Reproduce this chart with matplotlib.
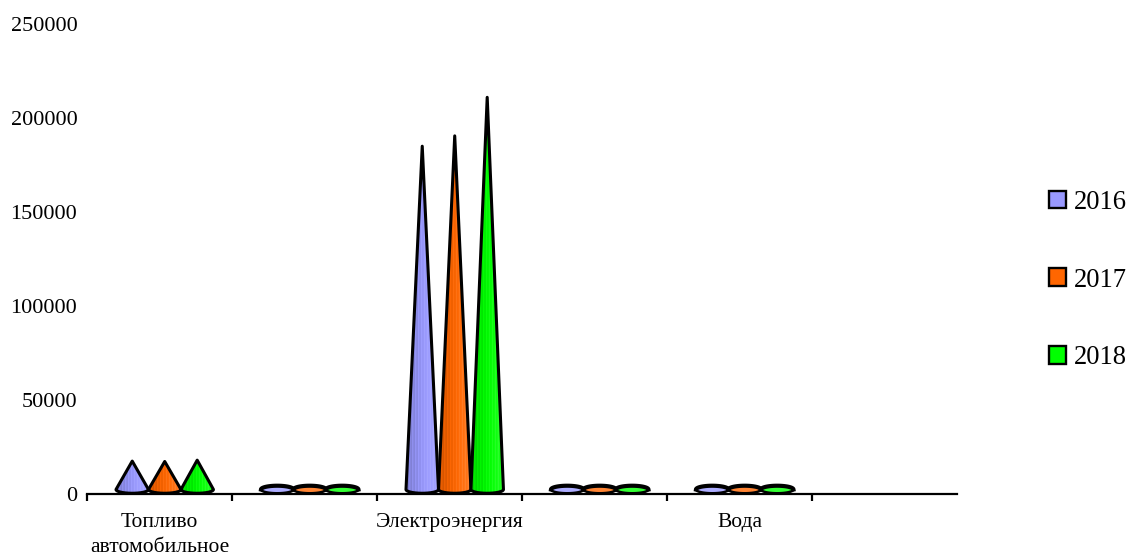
import numpy as np
import matplotlib
matplotlib.use('Agg')
import matplotlib.pyplot as plt
from matplotlib.colors import LinearSegmentedColormap
from matplotlib.patches import Patch, Polygon

plt.rcParams['font.family'] = ['Liberation Serif', 'DejaVu Serif']

categories = ['Топливо\nавтомобильное', '', 'Электроэнергия', '', 'Вода', '']
years = ['2016', '2017', '2018']
colors = ['#9999FF', '#FF6600', '#00FF00']
# last category is empty
values_2016 = [17500, 4400, 185000, 4400, 4400, 0]
values_2017 = [17300, 4300, 190500, 4300, 4300, 0]
values_2018 = [18000, 4300, 211000, 4300, 4300, 0]
y_ticks = [0, 50000, 100000, 150000, 200000, 250000]
series = [values_2016, values_2017, values_2018]

W, H = 1128, 553
fig = plt.figure(figsize=(W / 100, H / 100), dpi=100)
ax = fig.add_axes([87 / W, (H - 494) / H, 870 / W, 470 / H])
ax.patch.set_alpha(0)

cone_w = 0.224
half_w = 0.112
base_y = 2400   # centre of the cone base above the axis
base_h = 2000   # half height of the base ellipse
lw = 2.2

t = np.linspace(0, np.pi, 40)
for s, vals in enumerate(series):
    # faint vertical streaks, like the stepped gradient of the original
    shade = 0.5 + 0.07 * np.sin(np.linspace(-1.5, 1.5, 200))
    shade += 0.035 * np.sin(np.linspace(0, 70, 200))
    cmap = LinearSegmentedColormap.from_list('c2', ['#000000', colors[s], '#ffffff'])
    for i, v in enumerate(vals):
        if v == 0:
            continue
        cx = i + 0.536 + (s - 1) * cone_w
        arc_x = cx + half_w * np.cos(t)
        arc_y = base_y - base_h * np.sin(t)
        xs = np.r_[cx, arc_x[::-1]]
        ys = np.r_[v, arc_y[::-1]]
        if v < 6000:
            # flat cones: the whole base ellipse shows
            top = base_y + base_h * np.sin(t)
            ax.fill_between(arc_x, arc_y, top, color=colors[s], alpha=0.8, lw=0, zorder=2 + s)
            ax.plot(arc_x, top, color='black', lw=lw + 0.8, zorder=3 + s)
            ax.plot(arc_x, arc_y, color='black', lw=lw - 0.4, zorder=3 + s)
            continue
        im = ax.imshow(np.tile(shade, (2, 1)), cmap=cmap, vmin=0, vmax=1,
                       extent=[cx - half_w, cx + half_w, 0, v], aspect='auto', zorder=2 + s)
        im.set_clip_path(Polygon(np.c_[xs, ys], closed=True, transform=ax.transData))
        ax.add_patch(Polygon(np.c_[xs, ys], closed=True, fc='none', ec='black',
                             lw=lw, joinstyle='round', zorder=3 + s))

ax.set_xlim(0, 6)
ax.set_ylim(0, 250000)
for side in ['top', 'right', 'left']:
    ax.spines[side].set_visible(False)
ax.spines['bottom'].set_linewidth(1.6)
ax.spines['bottom'].set_zorder(10)

ax.set_yticks(y_ticks)
ax.tick_params(axis='y', length=0, pad=7, labelsize=16)
ax.set_xticks(range(0, 6))
ax.set_xticklabels([])
ax.tick_params(axis='x', which='major', length=5, width=1.6)
ax.set_xticks(np.arange(6) + 0.5, minor=True)
ax.set_xticklabels(categories, minor=True, fontsize=15.5, linespacing=1.42)
ax.tick_params(axis='x', which='minor', length=0, pad=13.5)

handles = [Patch(fc=c, ec='black', lw=1.7) for c in colors]
fig.legend(handles, years, loc='center left', bbox_to_anchor=(1049 / W, (H - 280) / H),
           frameon=False, fontsize=19.2, handlelength=0.62, handleheight=0.62,
           handletextpad=0.3, labelspacing=1.98, borderpad=0, borderaxespad=0)

fig.savefig('out.png', dpi=100)
